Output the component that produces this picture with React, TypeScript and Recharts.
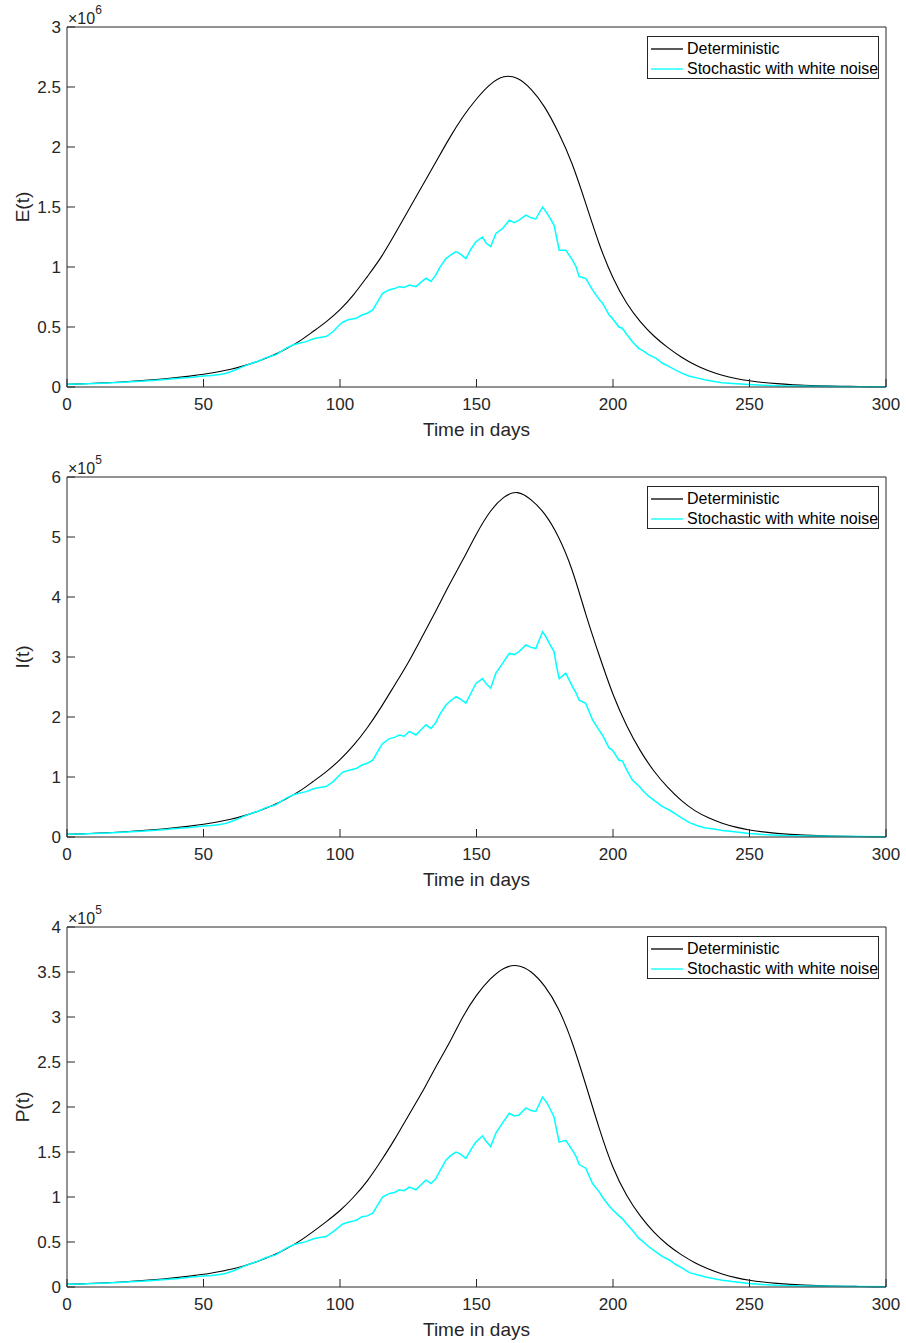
import React from 'react';
import { LineChart, Line, XAxis, YAxis, Legend } from 'recharts';

// ---- Data ----
const detDays = [0,5,10,15,20,25,30,35,40,45,50,55,60,65,70,75,80,85,90,95,100,105,110,115,120,125,130,135,140,145,150,155,160,165,170,175,180,185,190,195,200,205,210,215,220,225,230,235,240,245,250,255,260,265,270,275,280,285,290,295,300];

// E(t) deterministic, in units of 1e6
const eDet = [0.022,0.026,0.031,0.036,0.042,0.049,0.057,0.067,0.078,0.091,0.106,0.125,0.148,0.178,0.215,0.26,0.315,0.38,0.46,0.545,0.645,0.77,0.92,1.08,1.27,1.47,1.67,1.87,2.07,2.25,2.40,2.52,2.585,2.57,2.48,2.33,2.12,1.86,1.53,1.19,0.91,0.70,0.545,0.425,0.33,0.25,0.185,0.135,0.098,0.071,0.052,0.038,0.028,0.02,0.015,0.011,0.008,0.006,0.004,0.003,0.002];
// I(t) deterministic, in units of 1e5
const iDet = [0.044,0.052,0.062,0.072,0.084,0.098,0.114,0.134,0.156,0.182,0.212,0.25,0.296,0.356,0.43,0.52,0.63,0.76,0.92,1.09,1.29,1.53,1.82,2.16,2.53,2.91,3.33,3.76,4.2,4.62,5.05,5.42,5.66,5.74,5.62,5.38,5.0,4.45,3.72,3.02,2.38,1.86,1.44,1.1,0.83,0.61,0.44,0.32,0.23,0.165,0.118,0.085,0.061,0.044,0.032,0.023,0.017,0.012,0.009,0.007,0.005];
// P(t) deterministic, in units of 1e5
const pDet = [0.03,0.035,0.041,0.048,0.056,0.065,0.076,0.089,0.104,0.121,0.141,0.167,0.197,0.237,0.287,0.347,0.42,0.507,0.613,0.727,0.85,1.0,1.18,1.4,1.64,1.9,2.16,2.44,2.71,3.0,3.24,3.42,3.54,3.57,3.5,3.34,3.09,2.72,2.25,1.76,1.33,1.02,0.79,0.61,0.47,0.36,0.27,0.2,0.145,0.104,0.075,0.055,0.04,0.029,0.021,0.015,0.011,0.008,0.006,0.004,0.003];

const stochDays = [0,5,10,15,20,25,30,35,40,45,50,53,56,58,61,63,65.6,68,70,72.9,75,76.6,78,80,82.7,85,87.6,90,92,94.9,97.4,99.8,101,103,105.9,108,110,112,114,115.6,118.1,120,121.7,123.5,125.4,127.8,129.5,131.5,133.3,135,136.4,138.8,140.5,142.5,144,146.1,148,149.8,152.2,153.5,155.2,157.1,159.5,162,163.8,165.6,168.1,170,171.7,174.2,175.5,176.6,178.4,179.3,180.3,182.7,185.1,186.5,187.6,190,192.5,194.9,196.1,198.6,199.8,202.2,203.4,205,207.1,209.5,210.8,213,215.7,218,220.6,223,225.4,228,231.5,234,237.6,240,243.7,249.8,255,260,270,280,290,300];

const eStoch = [0.022,0.025,0.029,0.034,0.039,0.045,0.052,0.06,0.07,0.08,0.092,0.095,0.105,0.112,0.135,0.155,0.18,0.2,0.215,0.245,0.258,0.27,0.29,0.32,0.35,0.365,0.378,0.4,0.41,0.42,0.46,0.517,0.54,0.56,0.572,0.6,0.615,0.642,0.72,0.78,0.81,0.82,0.836,0.83,0.85,0.836,0.87,0.906,0.88,0.93,0.99,1.07,1.1,1.128,1.11,1.07,1.15,1.21,1.25,1.2,1.17,1.28,1.32,1.39,1.37,1.39,1.433,1.41,1.40,1.50,1.46,1.42,1.35,1.25,1.14,1.14,1.06,1.0,0.92,0.906,0.81,0.73,0.70,0.6,0.57,0.5,0.49,0.44,0.378,0.32,0.305,0.27,0.24,0.2,0.17,0.14,0.114,0.09,0.072,0.058,0.044,0.036,0.03,0.02,0.014,0.01,0.006,0.004,0.003,0.002];

const iStoch = [0.044,0.05,0.058,0.068,0.078,0.09,0.104,0.12,0.14,0.16,0.184,0.19,0.21,0.224,0.27,0.31,0.36,0.4,0.43,0.49,0.516,0.54,0.58,0.64,0.7,0.73,0.756,0.8,0.82,0.84,0.92,1.03,1.08,1.11,1.14,1.2,1.23,1.28,1.44,1.56,1.64,1.66,1.70,1.68,1.76,1.70,1.78,1.87,1.81,1.9,2.03,2.2,2.27,2.34,2.3,2.23,2.4,2.56,2.64,2.56,2.48,2.73,2.89,3.06,3.04,3.09,3.2,3.16,3.14,3.42,3.33,3.23,3.09,2.85,2.64,2.73,2.51,2.4,2.28,2.23,1.95,1.78,1.70,1.48,1.45,1.28,1.27,1.12,0.95,0.85,0.78,0.68,0.59,0.51,0.45,0.38,0.31,0.24,0.18,0.15,0.13,0.11,0.09,0.06,0.04,0.03,0.018,0.012,0.008,0.006];

const pStoch = [0.03,0.033,0.039,0.045,0.052,0.06,0.069,0.08,0.093,0.107,0.123,0.127,0.14,0.15,0.18,0.207,0.24,0.267,0.287,0.327,0.344,0.36,0.387,0.427,0.467,0.487,0.504,0.533,0.547,0.56,0.613,0.67,0.7,0.72,0.74,0.78,0.79,0.82,0.92,1.0,1.04,1.05,1.08,1.07,1.11,1.08,1.13,1.19,1.15,1.2,1.28,1.41,1.46,1.50,1.48,1.43,1.53,1.61,1.68,1.62,1.56,1.71,1.82,1.93,1.90,1.91,1.99,1.96,1.95,2.11,2.06,2.0,1.89,1.75,1.61,1.63,1.52,1.45,1.36,1.32,1.15,1.06,1.0,0.9,0.86,0.79,0.76,0.7,0.63,0.54,0.51,0.45,0.39,0.34,0.3,0.25,0.21,0.16,0.13,0.11,0.09,0.075,0.06,0.04,0.028,0.02,0.012,0.008,0.005,0.004];

const xTicks = [0, 50, 100, 150, 200, 250, 300];
const eTicks = [0, 0.5, 1, 1.5, 2, 2.5, 3];
const iTicks = [0, 1, 2, 3, 4, 5, 6];
const pTicks = [0, 0.5, 1, 1.5, 2, 2.5, 3, 3.5, 4];

const seriesNames = ['Deterministic', 'Stochastic with white noise'];
const seriesColors = ['#000000', '#00FFFF'];

// ---- Layout ----
const W = 906;
const H = 450;
const FONT = '"Liberation Sans", Arial, Helvetica, sans-serif';
const AX = '#262626';

const toRows = (days: number[], vals: number[]) => days.map((t, i) => ({ t, v: vals[i] }));

const renderLegend = () => (
  <div
    style={{
      width: 232,
      height: 43,
      boxSizing: 'border-box',
      border: `1px solid ${AX}`,
      background: '#fff',
      position: 'relative',
      fontFamily: FONT,
      fontSize: 16,
      color: '#000',
    }}
  >
    {seriesNames.map((n, i) => (
      <div key={n} style={{ position: 'absolute', left: 3, top: 2 + i * 20, height: 20, display: 'flex', alignItems: 'center' }}>
        <svg width={32} height={4} style={{ marginRight: 4, display: 'block' }}>
          <line x1={0} y1={2} x2={32} y2={2} stroke={seriesColors[i]} strokeWidth={1.3} />
        </svg>
        <span style={{ whiteSpace: 'nowrap', lineHeight: '20px' }}>{n}</span>
      </div>
    ))}
  </div>
);

type PanelProps = {
  top: number;
  det: number[];
  stoch: number[];
  yTicks: number[];
  yLabel: string;
  exp: string;
};

function Panel({ top, det, stoch, yTicks, yLabel, exp }: PanelProps) {
  const yMax = yTicks[yTicks.length - 1];
  const detRows = toRows(detDays, det);
  const stochRows = toRows(stochDays, stoch);
  return (
    <div style={{ position: 'absolute', left: 0, top, width: W, height: H }}>
      <LineChart width={W} height={H} margin={{ top: 26, right: 19, bottom: 62, left: 66 }}>
        <XAxis
          xAxisId="b"
          dataKey="t"
          type="number"
          domain={[0, 300]}
          ticks={xTicks}
          interval={0}
          height={1}
          tickSize={-8}
          tickMargin={19}
          axisLine={{ stroke: AX }}
          tickLine={{ stroke: AX }}
          tick={{ fill: AX, fontSize: 17, fontFamily: FONT }}
          label={{ value: 'Time in days', position: 'bottom', offset: 35, fill: AX, fontSize: 19, fontFamily: FONT }}
        />
        <XAxis
          xAxisId="t"
          orientation="top"
          dataKey="t"
          type="number"
          domain={[0, 300]}
          ticks={xTicks}
          interval={0}
          height={1}
          tickSize={-8}
          axisLine={{ stroke: AX }}
          tickLine={{ stroke: AX }}
          tick={false}
        />
        <YAxis
          yAxisId="l"
          type="number"
          domain={[0, yMax]}
          ticks={yTicks}
          interval={0}
          width={1}
          tickSize={-8}
          tickMargin={14}
          axisLine={{ stroke: AX }}
          tickLine={{ stroke: AX }}
          tick={{ fill: AX, fontSize: 17, fontFamily: FONT }}
        />
        <YAxis
          yAxisId="r"
          orientation="right"
          type="number"
          domain={[0, yMax]}
          ticks={yTicks}
          interval={0}
          width={1}
          tickSize={-8}
          axisLine={{ stroke: AX }}
          tickLine={{ stroke: AX }}
          tick={false}
        />
        <Line
          xAxisId="b"
          yAxisId="l"
          data={detRows}
          dataKey="v"
          name={seriesNames[0]}
          type="natural"
          stroke={seriesColors[0]}
          strokeWidth={1.1}
          dot={false}
          isAnimationActive={false}
        />
        <Line
          xAxisId="b"
          yAxisId="l"
          data={stochRows}
          dataKey="v"
          name={seriesNames[1]}
          type="linear"
          stroke={seriesColors[1]}
          strokeWidth={1.5}
          dot={false}
          isAnimationActive={false}
        />
        <Legend
          layout="vertical"
          align="center"
          verticalAlign="middle"
          content={renderLegend}
          wrapperStyle={{ position: 'absolute', left: 647, top: 36, width: 232, height: 43 }}
        />
      </LineChart>
      <svg width={200} height={30} style={{ position: 'absolute', left: 0, top: 0, pointerEvents: 'none' }}>
        <text x={68} y={24} fontFamily={FONT} fontSize={16} fill={AX}>
          ×10
          <tspan dy={-10} fontSize={12}>{exp}</tspan>
        </text>
      </svg>
      <div
        style={{
          position: 'absolute',
          left: 22,
          top: 207,
          transform: 'translate(-50%, -50%) rotate(-90deg)',
          fontFamily: FONT,
          fontSize: 19,
          color: AX,
          whiteSpace: 'nowrap',
          lineHeight: 1,
        }}
      >
        {yLabel}
      </div>
    </div>
  );
}

export default function App() {
  return (
    <div style={{ position: 'absolute', left: 0, top: 0, width: W, height: 1343, background: '#fff', overflow: 'hidden' }}>
      <Panel top={0} det={eDet} stoch={eStoch} yTicks={eTicks} yLabel="E(t)" exp="6" />
      <Panel top={450} det={iDet} stoch={iStoch} yTicks={iTicks} yLabel="I(t)" exp="5" />
      <Panel top={900} det={pDet} stoch={pStoch} yTicks={pTicks} yLabel="P(t)" exp="5" />
    </div>
  );
}
